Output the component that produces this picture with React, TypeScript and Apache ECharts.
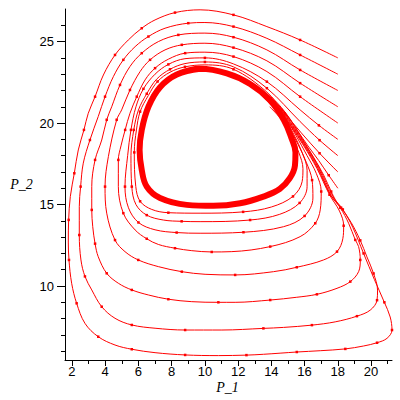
import React, { useEffect, useRef } from "react";
import * as echarts from "echarts";

// Trajectories (P_1, P_2), in flow order
const loop1 = [[18,24],[15.73,25.1],[13.73,25.92],[11.72,26.64],[9.71,26.95],[8.2,26.78],[7.0,26.33],[6.2,25.82],[5.39,25.1],[4.59,24.18],[3.89,22.95],[3.39,21.62],[2.98,20.6],[2.72,19.58],[2.38,18.35],[2.14,16.92],[1.9,15.49],[1.8,14.06],[1.78,12.7],[1.82,11.6],[1.98,10.17],[2.28,8.94],[2.78,7.71],[3.58,6.89],[4.59,6.38],[5.6,6.12],[7.0,5.91],[8.81,5.77],[10.81,5.73],[12.5,5.76],[13.52,5.81],[15.53,5.95],[16.94,6.03],[18.45,6.14],[19.55,6.32],[20.36,6.52],[20.96,6.79],[21.26,7.3],[21.15,8.1],[20.8,9.0],[20.2,10.4],[19.55,12.0],[18.9,13.6],[18.3,14.7],[17.7,15.5],[16.9,17.2],[16.1,18.6],[15.3,19.85],[14.6,20.85],[13.7,21.8]];
const loop2 = [[18,23],[15.73,24.18],[13.73,25.2],[11.72,25.92],[10.0,26.17],[9.0,26.13],[7.6,25.82],[6.6,25.31],[5.8,24.69],[5.09,23.88],[4.49,22.85],[3.99,21.62],[3.58,20.4],[3.08,18.96],[2.68,17.54],[2.52,16.1],[2.44,14.87],[2.44,13.13],[2.54,11.6],[2.78,10.59],[3.19,9.76],[3.79,8.73],[4.59,8.02],[5.6,7.61],[7.0,7.41],[8.81,7.3],[11.02,7.3],[13.52,7.4],[14.73,7.46],[16.44,7.6],[17.84,7.8],[19.15,8.15],[19.95,8.52],[20.36,9.13],[20.39,9.75],[20.15,10.77],[19.75,11.79],[19.35,12.8],[18.8,13.9],[18.2,14.8],[17.6,15.55],[16.85,17.2],[16.05,18.6],[15.25,19.85],[14.55,20.85],[13.65,21.75]];
const loop3 = [[18,22],[15.73,23.26],[13.73,24.49],[11.72,25.27],[10.0,25.52],[8.4,25.41],[7.2,25.0],[6.2,24.29],[5.49,23.47],[4.89,22.34],[4.39,21.0],[4.09,20.2],[3.79,18.96],[3.39,17.74],[3.19,16.1],[3.19,14.67],[3.25,13.64],[3.39,12.6],[3.58,11.8],[4.09,10.78],[4.79,10.17],[5.6,9.76],[6.6,9.45],[7.8,9.19],[9.21,9.04],[10.81,9.0],[11.82,9.0],[13.93,9.14],[15.53,9.31],[16.74,9.49],[17.95,9.86],[18.75,10.27],[19.25,10.88],[19.35,11.6],[19.25,12.42],[19.05,12.83],[18.65,13.85],[18.15,14.8],[17.55,15.6],[16.8,17.2],[16.0,18.6],[15.2,19.85],[14.5,20.85],[13.6,21.7]];
const loop4 = [[18,21],[15.73,22.45],[13.73,23.82],[11.72,24.63],[10.0,24.9],[8.61,24.8],[7.6,24.49],[6.7,23.88],[6.1,23.16],[5.49,22.03],[4.99,20.81],[4.69,20.2],[4.19,17.94],[3.99,16.1],[4.09,14.47],[4.59,12.82],[5.19,12.11],[5.99,11.6],[7.2,11.19],[8.61,10.88],[10.01,10.72],[11.82,10.68],[14.13,10.88],[15.53,11.15],[17.14,11.6],[17.95,12.11],[18.3,12.9],[18.35,13.7],[18.1,14.6],[17.5,15.6],[16.75,17.2],[15.95,18.6],[15.15,19.85],[14.45,20.8],[13.55,21.7]];
const loop5 = [[18,20],[15.73,21.62],[13.73,23.16],[11.72,24.08],[10.0,24.35],[8.81,24.29],[7.8,23.92],[7.0,23.37],[6.4,22.65],[5.9,21.62],[5.49,20.6],[5.2,19.58],[4.95,18.6],[4.79,17.74],[4.79,16.1],[5.09,14.47],[5.8,13.44],[6.5,12.9],[7.2,12.55],[8.2,12.32],[9.21,12.17],[10.41,12.09],[11.62,12.11],[13.93,12.42],[15.73,13.03],[16.64,13.85],[16.94,14.67],[17.0,15.8],[16.7,16.92],[16.15,18.0],[15.5,19.2],[14.95,20.15],[14.25,21.05],[13.4,21.85]];
const loop6 = [[18,19],[16.86,19.86],[15.73,20.81],[13.73,22.54],[11.72,23.63],[10.0,24.0],[8.8,23.95],[7.8,23.6],[7.0,23.0],[6.3,22.1],[5.85,21.0],[5.55,19.58],[5.35,18.0],[5.19,16.1],[5.4,14.8],[6.0,13.9],[7.0,13.45],[8.3,13.28],[9.71,13.24],[12.32,13.3],[14.73,13.64],[16.0,14.3],[16.5,15.4],[16.45,16.5],[16.1,17.6],[15.6,18.7],[15.05,19.75],[14.4,20.7],[13.5,21.6]];
const loop7 = [[18,18],[16.9,18.95],[15.73,20.09],[13.73,22.14],[11.72,23.45],[10.0,23.75],[8.8,23.65],[7.9,23.3],[7.1,22.7],[6.5,21.8],[6.0,20.8],[5.72,19.58],[5.55,18.0],[5.6,16.1],[5.85,15.0],[6.5,14.35],[7.5,14.05],[8.6,13.97],[9.71,13.95],[12.72,14.05],[14.5,14.4],[15.7,15.1],[16.15,16.1],[16.15,17.1],[15.85,18.2],[15.35,19.3],[14.8,20.3],[14.0,21.3]];
const loop8 = [[18,17],[16.9,18.15],[15.8,19.4],[14.8,20.6],[13.73,21.9],[11.72,23.3],[10.0,23.57],[8.8,23.45],[7.9,23.12],[7.15,22.55],[6.6,21.7],[6.1,20.7],[5.88,19.58],[5.75,18.2],[5.84,16.1],[6.1,15.2],[6.8,14.7],[7.8,14.5],[9.71,14.47],[12.3,14.55],[14.0,14.85],[15.3,15.5],[15.85,16.4],[15.9,17.2],[15.65,18.2],[15.2,19.2],[14.7,20.1],[13.9,21.0]];
const start16 = [[18,16],[17.45,16.8],[16.85,17.7],[16.2,18.6],[15.6,19.5],[14.95,20.5],[14.2,21.4],[13.3,22.1]];
const start15 = [[18,15],[17.6,15.8],[17.15,16.8],[16.6,17.8],[16.0,18.8],[15.4,19.8],[14.7,20.8],[13.9,21.6]];
const limitCycle = [[9.71,23.33],[8.31,22.98],[7.3,22.2],[6.6,21.0],[6.2,19.58],[6.07,18.35],[6.2,17.12],[6.5,16.1],[7.3,15.4],[8.91,14.98],[10.51,14.92],[12.12,15.08],[13.52,15.49],[14.5,15.95],[15.1,16.6],[15.42,17.4],[15.45,18.2],[15.2,19.1],[14.75,20.19],[13.9,21.42],[12.72,22.4],[11.32,23.05],[9.71,23.33],[8.31,22.98]];

const xMajor = [2, 4, 6, 8, 10, 12, 14, 16, 18, 20];
const xMinor = [2, 3, 4, 5, 6, 7, 8, 9, 10, 11, 12, 13, 14, 15, 16, 17, 18, 19, 20, 21];
const yMajor = [10, 15, 20, 25];
const yMinor = [6, 7, 8, 9, 10, 11, 12, 13, 14, 15, 16, 17, 18, 19, 20, 21, 22, 23, 24, 25, 26];

const trajectories = [loop1, loop2, loop3, loop4, loop5, loop6, loop7, loop8, start16, start15];

const X_MIN = 1.58, X_MAX = 21.26, Y_MIN = 5.46, Y_MAX = 27;

export default function App() {
  const ref = useRef<HTMLDivElement>(null);
  useEffect(() => {
    const chart = echarts.init(ref.current!, null, { renderer: "svg" });
    const labelFont = { color: "#000", fontFamily: "Liberation Sans, Arial, sans-serif", fontSize: 13 };
    const series: any[] = trajectories.map((d) => ({
      type: "line", data: d, showSymbol: true, symbol: "rect", smooth: 0.35, silent: true,
      symbolSize: (_v: any, p: any) => (p.dataIndex > 0 && p.dataIndex < d.length - 5 && p.dataIndex % 2 === 1 ? 2.5 : 0),
      itemStyle: { color: "#ff0000", borderWidth: 0 },
      lineStyle: { color: "#ff0000", width: 1 },
    }));
    series.push({
      type: "line", data: limitCycle, showSymbol: false, smooth: 0.4, silent: true,
      lineStyle: { color: "#ff0000", width: 6 },
    });
    chart.setOption({
      animation: false,
      grid: { left: 65, right: 8, top: 9, bottom: 40 },
      xAxis: [
        {
          type: "value", min: X_MIN, max: X_MAX, position: "bottom",
          axisLine: { show: true, lineStyle: { color: "#000", width: 1 } },
          axisTick: { show: true, length: 6, customValues: xMajor, lineStyle: { color: "#000" } },
          axisLabel: { show: true, customValues: xMajor, margin: 5, ...labelFont },
          splitLine: { show: false },
        },
        {
          type: "value", min: X_MIN, max: X_MAX, position: "bottom",
          axisLine: { show: false },
          axisTick: { show: true, length: 4, customValues: xMinor, lineStyle: { color: "#000" } },
          axisLabel: { show: false },
          splitLine: { show: false },
        },
      ],
      yAxis: [
        {
          type: "value", min: Y_MIN, max: Y_MAX, position: "left",
          axisLine: { show: true, lineStyle: { color: "#000", width: 1 } },
          axisTick: { show: true, length: 8, customValues: yMajor, lineStyle: { color: "#000" } },
          axisLabel: { show: true, customValues: yMajor, margin: 11, ...labelFont },
          splitLine: { show: false },
        },
        {
          type: "value", min: Y_MIN, max: Y_MAX, position: "left",
          axisLine: { show: false },
          axisTick: { show: true, length: 4, customValues: yMinor, lineStyle: { color: "#000" } },
          axisLabel: { show: false },
          splitLine: { show: false },
        },
      ],
      graphic: [
        { type: "text", x: 227.5, y: 387.5, style: { text: "P_1", fontFamily: "Liberation Serif, Times New Roman, serif", fontStyle: "italic", fontSize: 14, fill: "#000", align: "center", verticalAlign: "middle" } },
        { type: "text", x: 21.5, y: 184.5, style: { text: "P_2", fontFamily: "Liberation Serif, Times New Roman, serif", fontStyle: "italic", fontSize: 14, fill: "#000", align: "center", verticalAlign: "middle" } },
      ],
      series,
    });
    return () => chart.dispose();
  }, []);
  return <div ref={ref} style={{ position: "absolute", left: 0, top: 0, width: 400, height: 400, background: "#fff" }} />;
}
